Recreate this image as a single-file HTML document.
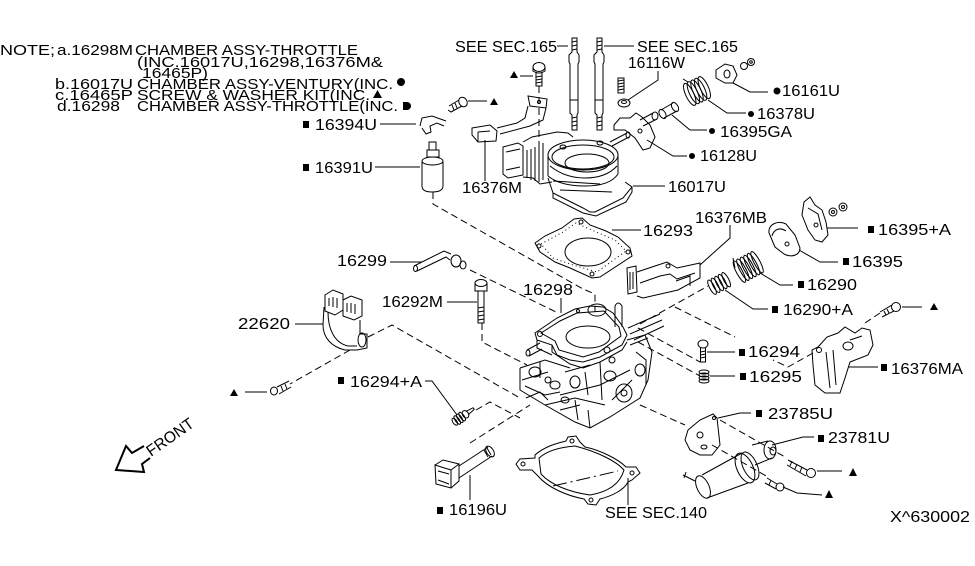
<!DOCTYPE html>
<html><head><meta charset="utf-8"><style>
html,body{margin:0;padding:0;background:#fff;}
svg{display:block}
text{font-family:"Liberation Sans",sans-serif;font-size:16px;fill:#000}
text.n{font-size:15px}
</style></head><body>
<svg width="975" height="566" viewBox="0 0 975 566" xmlns="http://www.w3.org/2000/svg">
<rect width="975" height="566" fill="#fff"/>

<g fill="none" stroke="#000" stroke-width="1" stroke-dasharray="7 4">
<path d="M433,192 L433,204 L583,289 L595,294 L595,312"/>
<path d="M539,86 L539,183"/>
<path d="M470,270 L556,312"/>
<path d="M482,323 L482,342 L527,365"/>
<path d="M368,337 L392,325 L520,398"/>
<path d="M350,350 L290,384"/>
<path d="M476,410 L490,402 L520,418"/>
<path d="M470,443 L530,405"/>
<path d="M640,324 L708,286"/>
<path d="M675,307 L735,337"/>
<path d="M638,328 L700,362"/>
<path d="M638,342 L700,376"/>
<path d="M813,353 L788,367 L773,360"/>
<path d="M880,313 L865,323"/>
<path d="M640,405 L685,425"/>
<path d="M720,420 L785,457"/>
<path d="M712,445 L768,477"/>
</g>

<g fill="none" stroke="#000" stroke-width="1">
<path d="M557,46 L568,46 M604,46 L634,46 M658,71 L658,80 L628,100 M733,83 L750,92 L768,92 M708,100 L727,113 L746,113 M672,115 L690,130 L707,130 M647,140 L673,156 L687,156 M633,186 L665,186 M485,140 L485,181 M520,76 L533,76 M468,101 L487,101 M380,124 L416,124 M375,167 L420,167 M612,230 L641,230 M730,225 L730,238 L700,265 M827,228 L858,228 M799,250 L820,262 L838,262 M760,273 L780,285 L793,285 M725,290 L753,309 L768,309 M902,307 L922,307 M707,352 L735,352 M710,376 L735,376 M848,367 L878,367 M390,262 L422,262 M447,302 L477,302 M561,298 L561,313 M295,324 L323,324 M245,392 L267,392 M425,381 L432,381 L457,415 M470,475 L470,500 M628,478 L628,505 M718,418 L740,413 L751,413 M772,445 L803,437 L814,437 M817,471 L842,471 M783,487 L797,493 L822,495"/>

<path d="M572,38 L577,38 L577,52 L579,55 L579,62 L578,64 L578,113 L577,115 L577,130 L572,130 L572,115 L570,113 L570,64 L569,62 L569,55 L572,52 Z"/>
<path d="M572,42 L577,41 M572,46 L577,45 M572,50 L577,49 M572,118 L577,117 M572,122 L577,121 M572,126 L577,125 M570,100 L578,100"/>
<path d="M597,38 L602,38 L602,52 L604,55 L604,62 L603,64 L603,113 L602,115 L602,130 L597,130 L597,115 L595,113 L595,64 L594,62 L594,55 L597,52 Z"/>
<path d="M597,42 L602,41 M597,46 L602,45 M597,50 L602,49 M597,118 L602,117 M597,122 L602,121 M597,126 L602,125 M595,100 L603,100"/>

<ellipse cx="539" cy="67" rx="6" ry="4.5"/>
<path d="M533,67 L533,71 Q539,75 545,71 L545,67 M536,73 L536,86 L542,86 L542,73 M536,77 L542,76 M536,80 L542,79 M536,83 L542,82"/>

<path d="M528,96 L547,99 L546,108 L530,106 Z"/>
<circle cx="539" cy="102" r="1.6"/>
<path d="M528,106 L525,118 L517,123 L497,128 M546,108 L543,120 L530,126 L500,134"/>
<path d="M472,128 L490,125 L497,131 L496,141 L478,142 L472,135 Z M478,132 L490,131 M478,132 L478,142"/>

<path d="M420,126 L422,118 L432,116 L446,121 M422,128 L426,134 L431,132 L430,126 L437,123 L444,126"/>
<ellipse cx="463" cy="102" rx="4" ry="5" transform="rotate(-30 463 102)"/>
<path d="M459,100 L449,106 M462,106 L451,112 L448,110 M452,105 L454,110 M455,103 L457,108"/>

<path d="M429,142 L436,142 L436,150 L429,150 Z M427,150 L439,150 L439,157 L427,157 Z"/>
<path d="M422,162 L422,186 Q422,192 432,192 Q443,192 443,186 L443,162"/>
<ellipse cx="432.5" cy="161" rx="10.5" ry="4"/>

<path d="M503,147 L518,143 L523,146 L523,175 L508,178 L503,174 Z M506,152 L520,149 M506,170 L520,167"/>
<path d="M523,142 L532,137 L557,132 L568,133 L573,137 M523,177 L533,178 L540,184 L552,182"/>
<path d="M527,150 L527,178 M531,149 L531,180 M535,147 L535,181 M539,145 L539,182 M543,143 L543,180"/>
<ellipse cx="583" cy="155" rx="35" ry="15"/>
<ellipse cx="583" cy="157" rx="31" ry="12"/>
<ellipse cx="587" cy="163" rx="22" ry="9"/>
<path d="M548,155 L548,176 M618,155 L618,174 M548,176 Q560,186 585,186 Q610,186 618,174 M550,166 Q565,178 585,178 Q606,178 617,166"/>
<path d="M548,178 L553,193 L583,208 L590,212 L595,212 L623,198 L632,187 L625,182 M553,193 L553,198 L583,213 L596,216 L626,202 L632,192 L632,187 M553,181 L600,184 M560,190 L612,192"/>
<ellipse cx="563" cy="147" rx="3" ry="2"/>
<ellipse cx="600" cy="143" rx="3" ry="2"/>
<path d="M610,142 L627,133 M612,146 L629,137"/>
<ellipse cx="628" cy="135" rx="2" ry="3"/>

<path d="M535,243 L545,236 L562,228 L574,219 L582,218 L590,225 L606,231 L618,237 L630,248 L632,256 L600,277 L592,278 L570,268 L555,262 L540,252 Z"/>
<path d="M541,244 L563,232 L576,223 L587,228 L615,240 L626,251 L597,272 L570,264 L553,258 Z" stroke-dasharray="1 3"/>
<ellipse cx="588" cy="252" rx="23" ry="14"/>
<circle cx="539" cy="246" r="2"/><circle cx="581" cy="222" r="2"/><circle cx="628" cy="252" r="2"/><circle cx="592" cy="274" r="2"/>

<path d="M627,268 L636,266 L637,292 L628,294 Z M630,272 L630,290 M633,272 L633,289"/>
<path d="M637,272 L658,265 L667,262 L672,265 L677,268 L700,263 L700,278 L678,290 L643,298 L637,296 M640,283 L660,276 L670,274 L677,279 L695,273 M676,281 L690,276 L690,286"/>
<circle cx="668" cy="266" r="2"/>

<path d="M769,233 C768,224 778,220 786,224 L795,235 L800,248 C800,255 792,258 784,254 L775,247 Z M772,236 C774,229 780,227 786,231"/>
<circle cx="787" cy="244" r="2"/>
<path d="M804,202 L810,197 L815,205 L822,210 L826,222 L828,235 L822,242 L815,240 L808,230 L802,215 Z M808,208 L818,214 L822,230"/>
<circle cx="816" cy="225" r="2"/>
<circle cx="833" cy="212" r="4"/><circle cx="833" cy="212" r="1.5"/>
<circle cx="843" cy="207" r="4"/><circle cx="843" cy="207" r="1.5"/>

<g transform="rotate(-28 750 266)">
<ellipse cx="738" cy="266" rx="3" ry="12"/><ellipse cx="742" cy="266" rx="3" ry="12"/><ellipse cx="746" cy="266" rx="3" ry="12"/><ellipse cx="750" cy="266" rx="3" ry="12"/><ellipse cx="754" cy="266" rx="3" ry="12"/><ellipse cx="758" cy="266" rx="3" ry="12"/>
</g>
<path d="M733,258 L735,268"/>
<g transform="rotate(-28 720 283)">
<ellipse cx="711" cy="283" rx="2.5" ry="8"/><ellipse cx="715" cy="283" rx="2.5" ry="8"/><ellipse cx="719" cy="283" rx="2.5" ry="8"/><ellipse cx="723" cy="283" rx="2.5" ry="8"/><ellipse cx="727" cy="283" rx="2.5" ry="8"/>
</g>

<ellipse cx="703" cy="344" rx="5" ry="4"/>
<path d="M700.5,348 L700.5,362 L705.5,362 L705.5,348 M700.5,352 L705.5,351 M700.5,355 L705.5,354 M700.5,358 L705.5,357"/>
<ellipse cx="704" cy="372" rx="5" ry="2"/><ellipse cx="704" cy="375" rx="5" ry="2"/><ellipse cx="704" cy="378" rx="5" ry="2"/><ellipse cx="704" cy="381" rx="5" ry="2"/>

<path d="M818,347 L827,337 L838,333 L845,327 L855,333 L862,328 L870,330 L873,345 L868,355 L850,362 L845,378 L840,393 L825,393 L815,385 L813,365 L812,350 Z M826,352 L830,388 M833,350 L836,385 M850,340 L862,336"/>
<circle cx="819" cy="350" r="2.5"/>
<ellipse cx="848" cy="346" rx="5" ry="4"/>
<circle cx="896" cy="307" r="4.5"/>
<path d="M892,305 L880,312 M894,311 L882,317 M884,311 L886,315 M887,309 L889,313"/>

<path d="M535,333 L557,318 L575,309 L590,306 L603,307 L613,313 L623,327 L627,335 L622,345 L600,357 L583,362 L570,360 L557,355 L552,345 L537,340 Z"/>
<path d="M541,333 L560,321 L577,313 L604,311 L619,327 L621,336 L599,352 L583,357 L559,350 L555,341 Z"/>
<ellipse cx="588" cy="337" rx="22" ry="11"/>
<ellipse cx="597" cy="310" rx="9" ry="6"/>
<circle cx="607" cy="350" r="3"/><circle cx="540" cy="334" r="2.5"/><circle cx="578" cy="311" r="1.5"/>
<path d="M615,327 L615,306 Q618,300 622,306 L622,327"/>
<path d="M527,350 L540,343 M529,356 L542,349"/>
<ellipse cx="528" cy="353" rx="2" ry="3"/>
<path d="M537,340 L537,348 L552,355 M552,345 L552,352 L570,364 L583,368 L600,362 L622,350 L627,342"/>
<path d="M520,368 L520,390 L545,405 L575,422 L590,428 L610,417 L640,398 L648,380 L652,352 L645,335 L627,340"/>
<path d="M520,368 L545,360 L570,368 M522,380 L548,372 M560,395 L600,385 L630,370 M545,405 L575,398 L605,405 M590,428 L588,410 M575,400 L578,420 M600,362 L602,400 M630,345 L648,338"/>
<path d="M525,386 L545,395 L560,392 M540,362 L540,378 M565,372 L590,365 M585,372 L588,395 M612,400 L632,380 M636,352 L646,360 L646,385 M526,398 L540,392 L548,400 M560,410 L580,405"/>
<ellipse cx="535" cy="372" rx="6" ry="5"/><ellipse cx="555" cy="385" rx="5" ry="4"/><ellipse cx="575" cy="382" rx="5" ry="6"/>
<ellipse cx="610" cy="376" rx="6" ry="5"/><ellipse cx="624" cy="393" rx="8" ry="9"/><circle cx="624" cy="393" r="3"/>
<ellipse cx="640" cy="370" rx="5" ry="6"/><circle cx="612" cy="360" r="3"/>
<ellipse cx="565" cy="400" rx="4" ry="3"/><ellipse cx="548" cy="380" rx="3" ry="3"/>
<path d="M628,328 L660,314 M630,334 L662,320 M634,340 L664,326"/>

<path d="M414,266 L444,251 L451,254 M417,271 L446,257 L450,260"/>
<ellipse cx="415.5" cy="268.5" rx="2" ry="3"/>
<ellipse cx="456" cy="261" rx="5" ry="6"/>
<ellipse cx="463" cy="265" rx="3" ry="4"/>

<ellipse cx="481" cy="283" rx="6" ry="3.5"/>
<path d="M475,283 L475,291 L487,291 L487,283 M478,291 L478,323 L484,323 L484,291 M478,308 L484,307 M478,312 L484,311 M478,316 L484,315 M478,320 L484,319"/>

<path d="M325,295 L333,290 L343,294 L343,310 L335,315 L325,311 Z M329,298 L329,306 M333,297 L333,307 M337,298 L337,308"/>
<path d="M343,300 L351,296 L362,300 L362,316 L354,320 L343,316 Z M347,303 L347,312 M351,303 L351,313 M355,304 L355,314"/>
<path d="M324,307 L323,325 C323,338 332,347 345,350 L357,350 L367,348 L367,334 L360,334 L360,320 M328,312 C328,330 335,343 348,346 L357,346"/>
<ellipse cx="362" cy="340" rx="4" ry="7"/>
<ellipse cx="274" cy="391" rx="3.5" ry="4"/>
<path d="M277,387 L289,381 M279,394 L291,387 M281,386 L283,391 M285,384 L287,389"/>

<g transform="rotate(-35 463 416)">
<ellipse cx="453" cy="416" rx="2" ry="4"/><ellipse cx="456" cy="416" rx="2" ry="5"/><ellipse cx="459" cy="416" rx="2" ry="5"/><ellipse cx="462" cy="416" rx="2" ry="5"/><ellipse cx="466" cy="416" rx="3" ry="4"/>
<path d="M468,414 L476,415 L476,417 L468,418"/>
</g>

<path d="M435,465 L451,470 L451,488 L436,484 Z M435,465 L443,460 L459,464 L451,470 M459,464 L459,481 L451,488 M438,471 L449,474 M438,480 L449,484"/>
<path d="M459,466 L488,447 M459,478 L492,456"/>
<ellipse cx="490" cy="451.5" rx="3.5" ry="6" transform="rotate(-33 490 451.5)"/>
<path d="M484,450 L488,457 M487,448 L491,455"/>

<path d="M535,455 C545,446 558,443 566,441 L568,437 L576,436 L580,442 L585,447 C600,450 618,459 626,467 L636,467 L640,473 L632,480 L628,482 C624,490 612,496 600,499 L596,505 L588,504 L584,499 C568,496 548,488 538,476 L532,470 L520,470 L516,464 L520,459 L535,458 Z"/>
<path d="M539,458 C548,450 562,447 575,446 C598,452 616,461 624,470 C620,484 608,492 590,495 C568,492 550,484 541,474 Z"/>
<circle cx="523" cy="464" r="2"/><circle cx="572" cy="441" r="2"/><circle cx="632" cy="473" r="2"/><circle cx="591" cy="500" r="2"/>
<path d="M553,486 L618,471" stroke-dasharray="14 4 2 4"/>

<path d="M688,430 L700,420 L713,414 L717,418 L720,445 L712,455 L700,455 L690,450 L685,440 Z"/>
<circle cx="700" cy="435" r="3"/><ellipse cx="704" cy="447" rx="3" ry="2"/><circle cx="714" cy="418" r="1.5"/>
<path d="M702,475 L742,453 M707,498 L748,483 M752,445 L768,441 M755,465 L772,458"/>
<ellipse cx="745" cy="468" rx="8" ry="16" transform="rotate(-25 745 468)"/>
<ellipse cx="750" cy="466" rx="7" ry="15" transform="rotate(-25 750 466)"/>
<ellipse cx="703" cy="487" rx="6" ry="12" transform="rotate(-25 703 487)"/>
<ellipse cx="770" cy="450" rx="6" ry="9"/>
<ellipse cx="773" cy="451" rx="3" ry="4"/>
<path d="M683,475 L695,481 M686,472 L684,478"/>
<circle cx="811" cy="473" r="4.5"/>
<path d="M807,470 L788,460 M806,476 L787,465 M792,461 L790,466 M797,464 L795,469 M802,467 L800,472"/>
<circle cx="780" cy="487" r="4"/>
<path d="M777,484 L767,478 M776,489 L765,483 M771,480 L769,485"/>

<path d="M618,78 L624,78 L624,93 L618,93 Z M618,81 L624,80 M618,84 L624,83 M618,87 L624,86 M618,90 L624,89"/>
<ellipse cx="624" cy="103" rx="6" ry="4"/><ellipse cx="624" cy="102" rx="2.5" ry="1.5"/>
<path d="M614,125 L620,118 L630,118 L636,113 L642,117 L650,125 L655,137 L650,148 L643,150 L635,138 L625,130 L614,130 Z"/>
<circle cx="640" cy="131" r="2"/>
<path d="M640,120 L653,113 M643,126 L657,119"/>
<ellipse cx="655" cy="116" rx="3" ry="4"/>
<path d="M661,110 L673,103 M664,118 L677,111"/>
<ellipse cx="675" cy="107" rx="3" ry="5" transform="rotate(-30 675 107)"/>
<ellipse cx="662.5" cy="114" rx="3" ry="5" transform="rotate(-30 662.5 114)"/>
<g transform="rotate(-25 697 91)">
<ellipse cx="689" cy="91" rx="4" ry="12"/><ellipse cx="693" cy="91" rx="4" ry="12"/><ellipse cx="697" cy="91" rx="4" ry="12"/><ellipse cx="701" cy="91" rx="4" ry="12"/><ellipse cx="705" cy="91" rx="4" ry="12"/>
</g>
<path d="M683,79 L688,82"/>
<path d="M716,70 L725,64 L733,66 L737,75 L733,83 L725,83 L716,78 Z"/>
<ellipse cx="727" cy="74" rx="3" ry="4"/>
<circle cx="744" cy="66" r="3.5"/><circle cx="751" cy="62" r="3.5"/><circle cx="751" cy="62" r="1.3"/>

<path d="M144,446 L132,453 L126,446 L116,470 L144,472 L142,464 L150,458" stroke-width="2"/>
</g>

<g fill="#000" stroke="none">
<polygon points="510,78 518,78 514,71"/>
<polygon points="490,105 498,105 494,98"/>
<polygon points="930,310 938,310 934,303"/>
<polygon points="230,396 238,396 234,389"/>
<polygon points="849,476 857,476 853,468"/>
<polygon points="825,498 833,498 829,490"/>
<polygon points="373,98 382,98 377.5,90"/>
<rect x="303" y="121" width="6" height="7"/>
<rect x="303" y="164" width="6" height="7"/>
<rect x="868" y="226" width="6" height="7"/>
<rect x="843" y="258" width="6" height="7"/>
<rect x="798" y="281" width="6" height="7"/>
<rect x="772" y="306" width="6" height="7"/>
<rect x="739" y="349" width="6" height="7"/>
<rect x="740" y="373" width="6" height="7"/>
<rect x="881" y="364" width="6" height="7"/>
<rect x="338" y="377" width="6" height="7"/>
<rect x="437" y="507" width="6" height="7"/>
<rect x="756" y="410" width="6" height="7"/>
<rect x="818" y="435" width="6" height="7"/>
<path d="M403,102 L407,102 A4,4 0 0 1 407,110 L403,110 Z"/>
<circle cx="777" cy="91" r="3.5"/>
<circle cx="751" cy="114" r="3"/>
<circle cx="712" cy="131" r="3"/>
<circle cx="692" cy="156" r="3"/>
<circle cx="401" cy="82" r="4"/>
</g>

<g>
<text class="n" x="0" y="55" textLength="55" lengthAdjust="spacingAndGlyphs">NOTE;</text>
<text class="n" x="57" y="55" textLength="76" lengthAdjust="spacingAndGlyphs">a.16298M</text>
<text class="n" x="135" y="55" textLength="223" lengthAdjust="spacingAndGlyphs">CHAMBER ASSY-THROTTLE</text>
<text class="n" x="137" y="67" textLength="246" lengthAdjust="spacingAndGlyphs">(INC.16017U,16298,16376M&amp;</text>
<text class="n" x="142" y="78" textLength="66" lengthAdjust="spacingAndGlyphs">16465P)</text>
<text class="n" x="55" y="89" textLength="78" lengthAdjust="spacingAndGlyphs">b.16017U</text>
<text class="n" x="137" y="89" textLength="256" lengthAdjust="spacingAndGlyphs">CHAMBER ASSY-VENTURY(INC.</text>
<text class="n" x="55" y="100" textLength="78" lengthAdjust="spacingAndGlyphs">c.16465P</text>
<text class="n" x="137" y="100" textLength="233" lengthAdjust="spacingAndGlyphs">SCREW &amp; WASHER KIT(INC.</text>
<text class="n" x="57" y="111" textLength="63" lengthAdjust="spacingAndGlyphs">d.16298</text>
<text class="n" x="137" y="111" textLength="261" lengthAdjust="spacingAndGlyphs">CHAMBER ASSY-THROTTLE(INC.</text>

<text x="455" y="52" textLength="102" lengthAdjust="spacingAndGlyphs">SEE SEC.165</text>
<text x="637" y="52" textLength="101" lengthAdjust="spacingAndGlyphs">SEE SEC.165</text>
<text x="628" y="68" textLength="57" lengthAdjust="spacingAndGlyphs">16116W</text>
<text x="782" y="96" textLength="58" lengthAdjust="spacingAndGlyphs">16161U</text>
<text x="757" y="119" textLength="58" lengthAdjust="spacingAndGlyphs">16378U</text>
<text x="720" y="137" textLength="72" lengthAdjust="spacingAndGlyphs">16395GA</text>
<text x="700" y="161" textLength="57" lengthAdjust="spacingAndGlyphs">16128U</text>
<text x="668" y="192" textLength="58" lengthAdjust="spacingAndGlyphs">16017U</text>
<text x="462" y="193" textLength="60" lengthAdjust="spacingAndGlyphs">16376M</text>
<text x="315" y="130" textLength="62" lengthAdjust="spacingAndGlyphs">16394U</text>
<text x="315" y="173" textLength="58" lengthAdjust="spacingAndGlyphs">16391U</text>
<text x="643" y="236" textLength="50" lengthAdjust="spacingAndGlyphs">16293</text>
<text x="695" y="223" textLength="72" lengthAdjust="spacingAndGlyphs">16376MB</text>
<text x="878" y="235" textLength="73" lengthAdjust="spacingAndGlyphs">16395+A</text>
<text x="852" y="267" textLength="51" lengthAdjust="spacingAndGlyphs">16395</text>
<text x="807" y="290" textLength="50" lengthAdjust="spacingAndGlyphs">16290</text>
<text x="783" y="315" textLength="70" lengthAdjust="spacingAndGlyphs">16290+A</text>
<text x="748" y="357" textLength="52" lengthAdjust="spacingAndGlyphs">16294</text>
<text x="749" y="382" textLength="53" lengthAdjust="spacingAndGlyphs">16295</text>
<text x="891" y="374" textLength="72" lengthAdjust="spacingAndGlyphs">16376MA</text>
<text x="337" y="266" textLength="50" lengthAdjust="spacingAndGlyphs">16299</text>
<text x="382" y="307" textLength="61" lengthAdjust="spacingAndGlyphs">16292M</text>
<text x="523" y="295" textLength="50" lengthAdjust="spacingAndGlyphs">16298</text>
<text x="238" y="329" textLength="52" lengthAdjust="spacingAndGlyphs">22620</text>
<text x="350" y="387" textLength="72" lengthAdjust="spacingAndGlyphs">16294+A</text>
<text x="449" y="515" textLength="58" lengthAdjust="spacingAndGlyphs">16196U</text>
<text x="605" y="518" textLength="102" lengthAdjust="spacingAndGlyphs">SEE SEC.140</text>
<text x="768" y="419" textLength="65" lengthAdjust="spacingAndGlyphs">23785U</text>
<text x="828" y="443" textLength="62" lengthAdjust="spacingAndGlyphs">23781U</text>
<text x="890" y="522" textLength="80" lengthAdjust="spacingAndGlyphs">X^630002</text>
<text x="151" y="457" textLength="54" lengthAdjust="spacingAndGlyphs" font-size="14" transform="rotate(-35 151 457)">FRONT</text>
</g>
</svg>
</body></html>
